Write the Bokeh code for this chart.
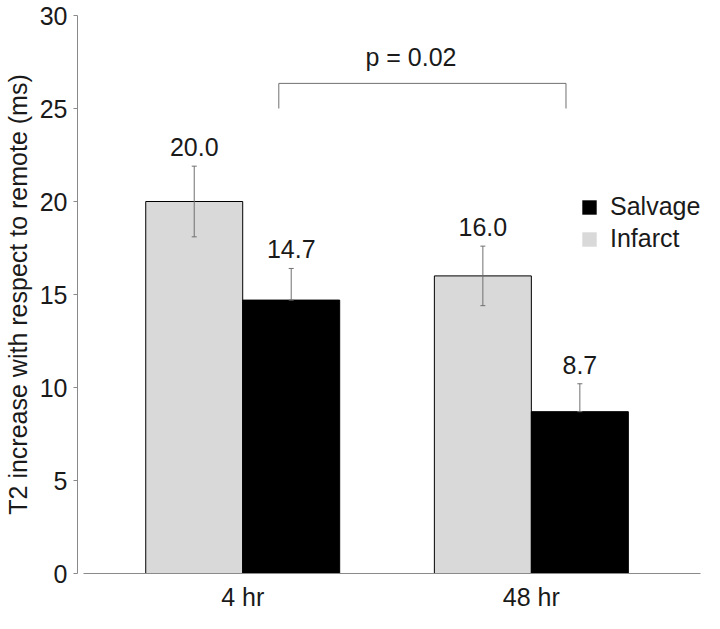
from bokeh.plotting import figure
from bokeh.models import (ColumnDataSource, Whisker, TeeHead, Legend, LegendItem,
                          FixedTicker, Range1d)
from bokeh.core.properties import value
from bokeh.embed import file_html
from bokeh.resources import INLINE

# ---- data ----
categories = ["4 hr", "48 hr"]
infarct = [20.0, 16.0]
infarct_err = [1.9, 1.6]
salvage = [14.7, 8.7]
salvage_err = [1.7, 1.5]
y_ticks = [0, 5, 10, 15, 20, 25, 30]
p_label = "p = 0.02"
bracket_x = [1.125, 1.125, 2.12, 2.12]
bracket_y = [25.0, 26.35, 26.35, 25.0]
p_label_x = 1.583

FONT = "Liberation Sans"
GRAY = "#d9d9d9"
AXIS = "#8a8a8a"
WHISK = "#707070"
TXT = "#1a1a1a"
FS = "25px"

pos = [1, 2]
off = 0.168
bw = 0.336

p = figure(width=704, height=613, output_backend="svg", toolbar_location=None,
           x_range=Range1d(0.4276, 2.586), y_range=Range1d(0, 30),
           min_border_left=74, min_border_right=4, min_border_top=15, min_border_bottom=38)
p.outline_line_color = None
p.xgrid.visible = False
p.ygrid.visible = False
p.background_fill_color = "white"
p.border_fill_color = "white"

inf_src = ColumnDataSource(dict(
    x=[c - off for c in pos], top=infarct,
    upper=[v + e for v, e in zip(infarct, infarct_err)],
    lower=[v - e for v, e in zip(infarct, infarct_err)],
    lab=[f"{v:.1f}" for v in infarct]))
sal_src = ColumnDataSource(dict(
    x=[c + off for c in pos], top=salvage,
    upper=[v + e for v, e in zip(salvage, salvage_err)],
    lower=list(salvage),
    lab=[f"{v:.1f}" for v in salvage]))

p.vbar(x="x", top="top", bottom=0, width=bw, source=inf_src,
       fill_color=GRAY, line_color="black", line_width=1)
p.vbar(x="x", top="top", bottom=0, width=bw, source=sal_src,
       fill_color="black", line_color="black", line_width=1)

for src in (inf_src, sal_src):
    w = Whisker(source=src, base="x", upper="upper", lower="lower",
                line_color=WHISK, line_width=1,
                upper_head=TeeHead(size=5, line_color=WHISK, line_width=1),
                lower_head=TeeHead(size=5, line_color=WHISK, line_width=1),
                level="annotation")
    p.add_layout(w)
    p.text(x="x", y="upper", text="lab", source=src, text_align="center",
           text_baseline="bottom", y_offset=-10, text_font=value(FONT),
           text_font_size=FS, text_color=TXT)

# significance bracket
p.line(bracket_x, bracket_y, line_color=WHISK, line_width=1)
p.text(x=[p_label_x], y=[bracket_y[1]], text=[p_label], text_align="center",
       text_baseline="bottom", y_offset=-12, text_font=value(FONT), text_font_size=FS,
       text_color=TXT)

# legend swatches: zero-width, outline-free copies of the bars
leg_sal = p.vbar(x="x", top="top", width=0, source=sal_src,
                 fill_color="black", line_color=None)
leg_inf = p.vbar(x="x", top="top", width=0, source=inf_src,
                 fill_color=GRAY, line_color=None)
legend = Legend(items=[LegendItem(label="Salvage", renderers=[leg_sal]),
                       LegendItem(label="Infarct", renderers=[leg_inf])],
                location=(503, 320), glyph_width=18, glyph_height=18,
                label_text_font=FONT, label_text_font_size=FS,
                label_text_color=TXT, label_standoff=12, spacing=3,
                padding=0, margin=0, border_line_color=None,
                background_fill_alpha=0, label_height=20)
p.add_layout(legend)

# axes
p.xaxis.ticker = FixedTicker(ticks=pos)
p.xaxis.major_label_overrides = {c: lab for c, lab in zip(pos, categories)}
p.xaxis.major_tick_line_color = None
p.xaxis.major_tick_out = 0
p.xaxis.major_tick_in = 0
p.xaxis.minor_tick_line_color = None
p.xaxis.axis_line_color = AXIS
p.xaxis.bounds = (0.448, 2.586)
p.xaxis.major_label_text_font = FONT
p.xaxis.major_label_text_font_size = FS
p.xaxis.major_label_text_color = TXT
p.xaxis.major_label_standoff = 9

p.yaxis.ticker = FixedTicker(ticks=y_ticks)
p.yaxis.bounds = (0, 30)
p.yaxis.axis_line_color = AXIS
p.yaxis.major_tick_line_color = AXIS
p.yaxis.major_tick_out = 4
p.yaxis.major_tick_in = 0
p.yaxis.minor_tick_line_color = None
p.yaxis.major_label_text_font = FONT
p.yaxis.major_label_text_font_size = FS
p.yaxis.major_label_text_color = TXT
p.yaxis.major_label_standoff = 6
p.yaxis.axis_label = "T2 increase with respect to remote (ms)"
p.yaxis.axis_label_text_font = FONT
p.yaxis.axis_label_text_font_size = FS
p.yaxis.axis_label_text_font_style = "normal"
p.yaxis.axis_label_text_color = TXT
p.yaxis.axis_label_standoff = 5

open("out.html", "w").write(file_html(p, INLINE))
